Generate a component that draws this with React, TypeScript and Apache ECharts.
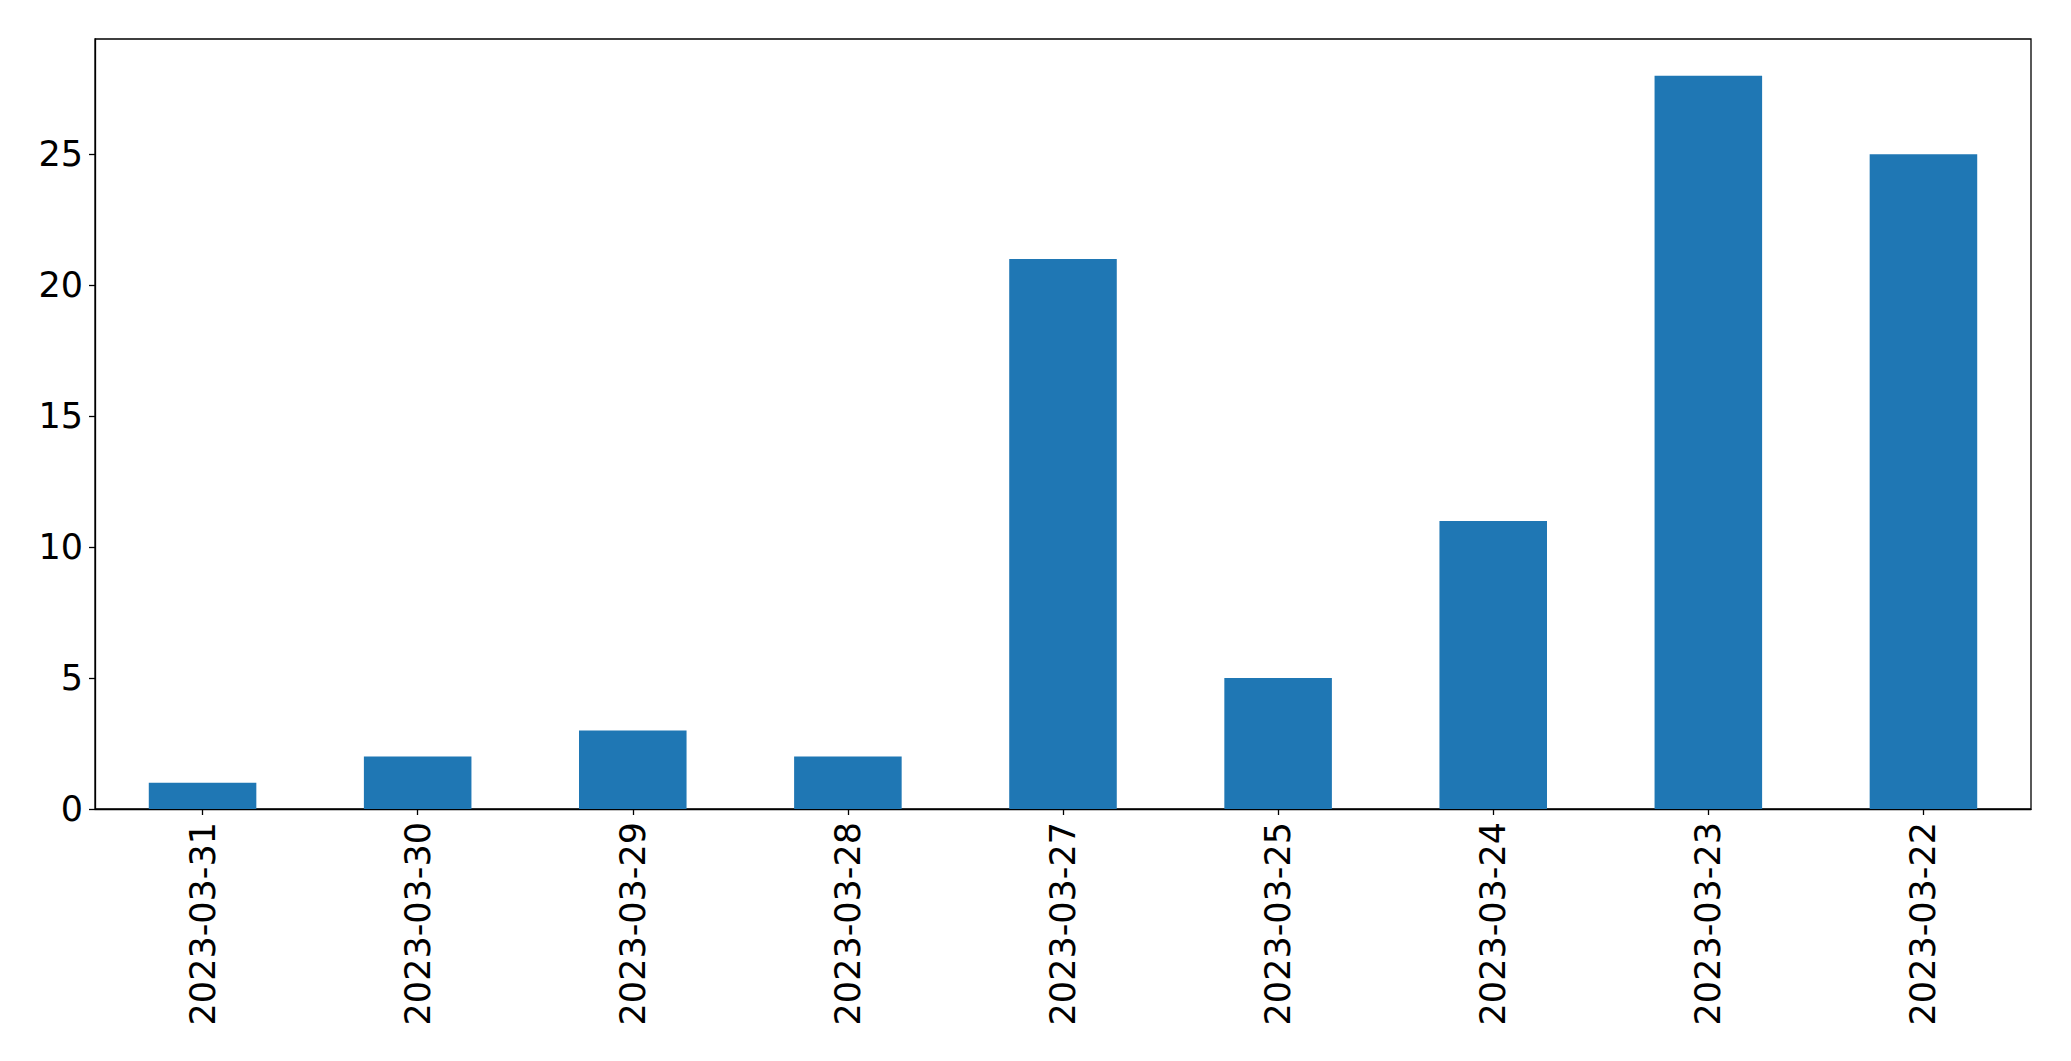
import React, { useEffect, useRef } from "react";
import * as echarts from "echarts";

const categories = [
  "2023-03-31",
  "2023-03-30",
  "2023-03-29",
  "2023-03-28",
  "2023-03-27",
  "2023-03-25",
  "2023-03-24",
  "2023-03-23",
  "2023-03-22",
];
const values = [1, 2, 3, 2, 21, 5, 11, 28, 25];
const yTicks = [0, 5, 10, 15, 20, 25];

const FONT = "DejaVu Sans";

export default function App() {
  const ref = useRef<HTMLDivElement>(null);
  useEffect(() => {
    if (!ref.current) return;
    const chart = echarts.init(ref.current, null, { renderer: "svg" });
    chart.setOption({
      animation: false,
      backgroundColor: "#ffffff",
      grid: {
        left: 95,
        top: 39,
        right: 40,
        bottom: 252,
        show: true,
        borderColor: "#000000",
        borderWidth: 1.3,
        backgroundColor: "transparent",
      },
      xAxis: {
        type: "category",
        data: categories,
        boundaryGap: true,
        axisLine: { show: true, lineStyle: { color: "#000000", width: 1.3 } },
        axisTick: {
          show: true,
          alignWithLabel: true,
          length: 6,
          lineStyle: { color: "#000000", width: 1.3 },
        },
        axisLabel: {
          rotate: 90,
          margin: 13,
          color: "#000000",
          fontFamily: FONT,
          fontSize: 35,
          interval: 0,
        },
        splitLine: { show: false },
      },
      yAxis: {
        type: "value",
        min: 0,
        max: 29.4,
        interval: 5,
        axisLine: { show: true, lineStyle: { color: "#000000", width: 1.3 } },
        axisTick: {
          show: true,
          length: 6,
          customValues: yTicks,
          lineStyle: { color: "#000000", width: 1.3 },
        },
        axisLabel: {
          margin: 12,
          color: "#000000",
          fontFamily: FONT,
          fontSize: 35,
          customValues: yTicks,
        },
        splitLine: { show: false },
      },
      series: [
        {
          type: "bar",
          data: values,
          barWidth: "50%",
          itemStyle: { color: "#1f77b4" },
        },
      ],
    });
    return () => chart.dispose();
  }, []);
  return (
    <div
      ref={ref}
      style={{ position: "absolute", left: 0, top: 0, width: 2071, height: 1061 }}
    />
  );
}
